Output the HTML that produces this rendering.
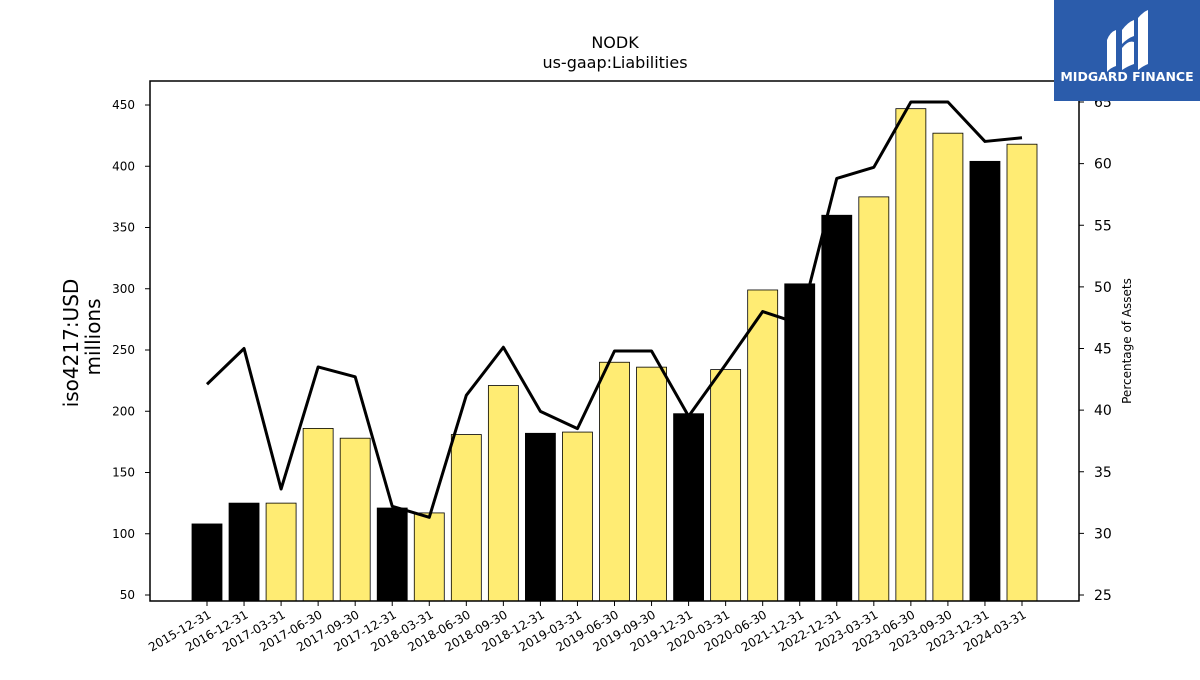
<!DOCTYPE html>
<html><head><meta charset="utf-8"><style>
body{margin:0;background:#fff;font-family:"Liberation Sans","DejaVu Sans",sans-serif}
</style></head><body>
<svg id="c" width="1200" height="675" xmlns="http://www.w3.org/2000/svg" font-family="DejaVu Sans, Liberation Sans, sans-serif">
<text x="615" y="48" text-anchor="middle" font-size="16">NODK</text>
<text x="615" y="68" text-anchor="middle" font-size="16">us-gaap:Liabilities</text>
<text transform="translate(78,343) rotate(-90)" text-anchor="middle" font-size="20">iso4217:USD</text>
<text transform="translate(100,337) rotate(-90)" text-anchor="middle" font-size="20">millions</text>
<text transform="translate(1131,341) rotate(-90)" text-anchor="middle" font-size="12">Percentage of Assets</text>
<g id="bars"></g><g id="ticks"></g>
<path id="line" fill="none" stroke="#000" stroke-width="3" stroke-linejoin="round"/>
<rect x="150" y="81" width="929" height="520" fill="none" stroke="#000" stroke-width="1.5"/>
<g>
<rect x="1054" y="0" width="146" height="101" fill="#2b5cab"/>
<path d="M1107 40 Q1110 32 1116 30 L1116 66 Q1110 68 1107 72 Z" fill="#fff"/>
<path d="M1122 30 Q1128 22 1134 20 L1134 36 Q1128 38 1122 44 Z M1122 48 Q1128 40 1134 42 L1134 64 Q1128 66 1122 70 Z" fill="#fff"/>
<path d="M1138 18 Q1143 12 1148 10 L1148 64 Q1143 66 1138 70 Z" fill="#fff"/>
<text x="1127" y="81" text-anchor="middle" font-size="12.5" font-weight="bold" fill="#fff">MIDGARD FINANCE</text>
</g>
</svg>
<script>
const categories=["2015-12-31","2016-12-31","2017-03-31","2017-06-30","2017-09-30","2017-12-31","2018-03-31","2018-06-30","2018-09-30","2018-12-31","2019-03-31","2019-06-30","2019-09-30","2019-12-31","2020-03-31","2020-06-30","2021-12-31","2022-12-31","2023-03-31","2023-06-30","2023-09-30","2023-12-31","2024-03-31"];
const liabilities=[108,125,125,186,178,121,117,181,221,182,183,240,236,198,234,299,304,360,375,447,427,404,418];
const pctAssets=[42.1,45.0,33.6,43.5,42.7,32.2,31.3,41.2,45.1,39.9,38.5,44.8,44.8,39.5,43.7,48.0,47.0,58.8,59.7,65.0,65.0,61.8,62.1];
const leftTicks=[50,100,150,200,250,300,350,400,450];
const rightTicks=[25,30,35,40,45,50,55,60,65];
const NS="http://www.w3.org/2000/svg";
const xS=i=>207+i*(1022-207)/22;
const yL=v=>656.25-v*1.225;
const yR=p=>595-(p-25)*12.325;
const bars=document.getElementById('bars'),tk=document.getElementById('ticks');
function mk(tag,at,parent){const e=document.createElementNS(NS,tag);for(const k in at)e.setAttribute(k,at[k]);parent.appendChild(e);return e;}
categories.forEach((c,i)=>{
  const black=c.endsWith("12-31");
  const r=mk('rect',{x:xS(i)-15,y:yL(liabilities[i]),width:30,height:601-yL(liabilities[i]),fill:black?"#000":"#ffec73",stroke:"#000","stroke-width":0.8},bars);
  
  
  mk('line',{x1:xS(i),x2:xS(i),y1:601,y2:606,stroke:"#000"},tk);
  const t=mk('text',{transform:`translate(${xS(i)+5},${617}) rotate(-30)`,"text-anchor":"end","font-size":12},tk);
  t.textContent=c;
  
  
});
leftTicks.forEach(v=>{
  mk('line',{x1:145,x2:150,y1:yL(v),y2:yL(v),stroke:"#000"},tk);
  const t=mk('text',{x:135,y:yL(v)+4,"text-anchor":"end","font-size":12},tk);t.textContent=v;
  
  
});
rightTicks.forEach(v=>{
  mk('line',{x1:1079,x2:1084,y1:yR(v),y2:yR(v),stroke:"#000"},tk);
  const t=mk('text',{x:1094,y:yR(v)+5,"font-size":14},tk);t.textContent=v;
  
  
});
document.getElementById('line').setAttribute('d',pctAssets.map((p,i)=>(i?'L':'M')+xS(i)+' '+yR(p)).join(' '));
</script>
</body></html>
